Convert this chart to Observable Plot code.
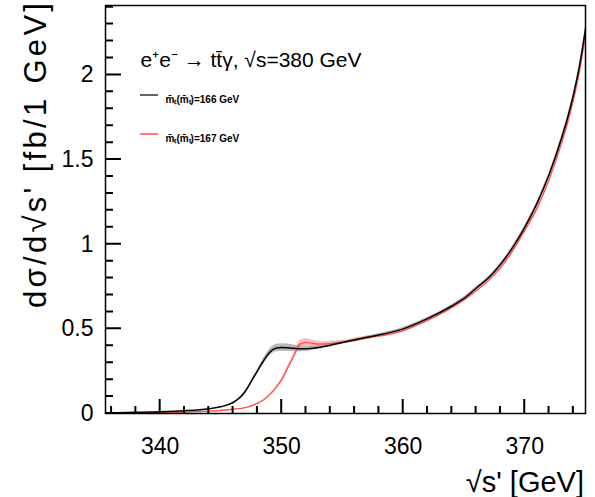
<!DOCTYPE html>
<html><head><meta charset="utf-8">
<script src="https://cdn.jsdelivr.net/npm/d3@7"></script>
<script src="https://cdn.jsdelivr.net/npm/@observablehq/plot@0.6"></script>
<style>body{margin:0;background:#fff;font-family:"Liberation Sans",Arial,sans-serif}</style>
</head><body><div id="chart"></div>
<script>
// sqrt(s') in GeV and cross section in fb/GeV
const xBlack = [335.5,338,340,342,344,345,346,346.5,347,347.5,348,348.5,349,349.5,350,350.5,351,351.5,352,353,355,357,360,362,364,365,366,367,368,369,370,371,372,373,373.5,374,374.5,375];
const yBlack = [0.004,0.007,0.01,0.016,0.028,0.04,0.065,0.09,0.13,0.19,0.25,0.31,0.36,0.385,0.39,0.388,0.385,0.382,0.382,0.39,0.42,0.45,0.5,0.56,0.635,0.68,0.74,0.8,0.88,0.98,1.1,1.24,1.41,1.62,1.74,1.88,2.05,2.27];
const bBlack = [0,0,0,0,0,0,0.003,0.004,0.006,0.008,0.01,0.015,0.02,0.022,0.022,0.022,0.02,0.018,0.015,0.012,0.01,0.008,0.008,0.008,0.008,0.008,0.008,0.008,0.008,0.009,0.01,0.01,0.012,0.013,0.014,0.015,0.016,0.018];
const xRed = [335.5,338,340,342,344,346,347,348,348.5,349,349.5,350,350.5,351,351.5,352,352.5,353,355,357,360,362,364,365,366,367,368,369,370,371,372,373,373.5,374,374.5,375];
const yRed = [0.002,0.004,0.006,0.009,0.014,0.025,0.035,0.06,0.08,0.11,0.15,0.2,0.27,0.34,0.41,0.42,0.415,0.41,0.42,0.445,0.49,0.55,0.625,0.67,0.725,0.785,0.86,0.96,1.08,1.21,1.38,1.59,1.71,1.85,2.02,2.24];
const bRed = [0,0,0,0,0,0,0,0.002,0.003,0.004,0.006,0.008,0.012,0.018,0.022,0.022,0.02,0.016,0.01,0.008,0.008,0.008,0.008,0.008,0.008,0.008,0.008,0.009,0.01,0.01,0.012,0.013,0.014,0.015,0.016,0.018];
const xTicks = [340,350,360,370];
const yTicks = [0,0.5,1,1.5,2];

const black = xBlack.map((x,i)=>({x,y:yBlack[i],lo:yBlack[i]-bBlack[i],hi:yBlack[i]+bBlack[i]}));
const red = xRed.map((x,i)=>({x,y:yRed[i],lo:yRed[i]-bRed[i],hi:yRed[i]+bRed[i]}));
const xMinor = d3.range(336, 376, 2).filter(v => v % 10);
const yMinor = d3.range(1, 25).map(v => v / 10).filter(v => Math.round(v * 10) % 5);

const chart = Plot.plot({
  width: 595, height: 497,
  marginLeft: 105, marginRight: 10, marginTop: 5, marginBottom: 84,
  style: {fontFamily: "Liberation Sans, Arial, sans-serif", fontSize: "23px", color: "#000"},
  x: {domain: [335.5, 375], ticks: xTicks, tickSize: 0, tickPadding: 24, label: null},
  y: {domain: [0, 2.41], ticks: yTicks, tickSize: 0, tickPadding: 12, tickFormat: d => String(d), label: null},
  marks: [
    Plot.areaY(black, {x: "x", y1: "lo", y2: "hi", fill: "#888", fillOpacity: 0.6, curve: "monotone-x"}),
    Plot.areaY(red, {x: "x", y1: "lo", y2: "hi", fill: "#ff8080", fillOpacity: 0.5, curve: "monotone-x"}),
    Plot.line(red, {x: "x", y: "y", stroke: "#ff4d4d", strokeWidth: 1.3, curve: "monotone-x"}),
    Plot.line(black, {x: "x", y: "y", stroke: "#000", strokeWidth: 1.5, curve: "monotone-x"}),
    Plot.frame({stroke: "#000", strokeWidth: 1.5}),
    Plot.text(["e\u207Ae\u207B \u2192 tt\u0304\u03B3, \u221As=380 GeV"], {frameAnchor: "top-left", dx: 35, dy: 47, fontSize: 21, textAnchor: "start"}),
    Plot.text(["m\u0304\u209C(m\u0304\u209C)=166 GeV"], {frameAnchor: "top-left", dx: 60, dy: 90, fontSize: 10, fontWeight: "bold", textAnchor: "start"}),
    Plot.text(["m\u0304\u209C(m\u0304\u209C)=167 GeV"], {frameAnchor: "top-left", dx: 60, dy: 129, fontSize: 10, fontWeight: "bold", textAnchor: "start"})
  ]
});
const svg = d3.select(chart);
const sx = d3.scaleLinear([335.5, 375], [105, 585]);
const sy = d3.scaleLinear([0, 2.41], [413, 5]);
// inward ROOT-style ticks as one path
let p = "";
xMinor.forEach(v => p += `M${sx(v)},413V406`);
xTicks.forEach(v => p += `M${sx(v)},413V399`);
yMinor.forEach(v => p += `M105,${sy(v)}H113`);
yTicks.forEach(v => p += `M105,${sy(v)}H121`);
svg.append("path").attr("d", p).attr("fill", "none").attr("stroke", "#000").attr("stroke-width", 2);
// legend swatches
svg.append("line").attr("x1",140).attr("x2",158).attr("y1",95).attr("y2",95).attr("stroke","#333").attr("stroke-width",1.5);
svg.append("line").attr("x1",140).attr("x2",158).attr("y1",134).attr("y2",134).attr("stroke","#ff4d4d").attr("stroke-width",1.5);
// axis titles
svg.append("text").attr("x",584).attr("y",492).attr("text-anchor","end").attr("font-size",29).text("\u221As' [GeV]");
svg.append("text").attr("transform","translate(46,3) rotate(-90)").attr("text-anchor","end").attr("font-size",31)
  .attr("textLength",305).attr("lengthAdjust","spacing").text("d\u03C3/d\u221As' [fb/1 GeV]");
d3.select("#chart").append(() => chart);
</script></body></html>
